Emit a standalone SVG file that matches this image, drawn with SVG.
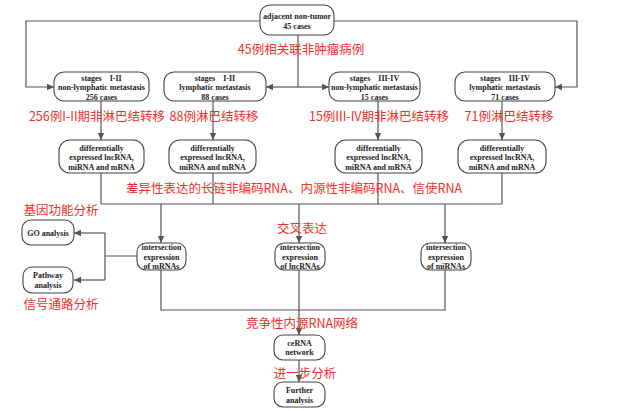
<svg xmlns="http://www.w3.org/2000/svg" width="628" height="411" viewBox="0 0 628 411">
<style>
.box{fill:#fff;stroke:#444;stroke-width:1.1}
.t{font-family:"Liberation Serif",serif;font-weight:bold;font-size:8px;fill:#222;text-anchor:middle;white-space:pre}
.r{font-family:"Noto Sans CJK SC",sans-serif;font-size:12.5px;fill:#f2302a;text-anchor:middle}
.c{fill:none;stroke:#555;stroke-width:1.2}
</style>
<defs>
<marker id="a" markerUnits="userSpaceOnUse" markerWidth="8" markerHeight="8" refX="7" refY="4" orient="auto">
<path d="M0,0.8 L7,4 L0,7.2 Z" fill="#555"/>
</marker>
</defs>
<rect width="628" height="411" fill="#fff"/>
<g id="connectors">
<path class="c" d="M260,21 H26 V87 H54" marker-end="url(#a)"/>
<path class="c" d="M334,21 H577 V87 H555" marker-end="url(#a)"/>
<path class="c" d="M298,35 V87"/>
<path class="c" d="M298,87 H266" marker-end="url(#a)"/>
<path class="c" d="M298,87 H329" marker-end="url(#a)"/>
<path class="c" d="M101,101 V140" marker-end="url(#a)"/>
<path class="c" d="M213,101 V140" marker-end="url(#a)"/>
<path class="c" d="M378,101 V140" marker-end="url(#a)"/>
<path class="c" d="M502,101 V140" marker-end="url(#a)"/>
<path class="c" d="M101,173 V204 M213,173 V204 M378,173 V204 M502,173 V204 M101,204 H502"/>
<path class="c" d="M161,204 V243" marker-end="url(#a)"/>
<path class="c" d="M299,204 V243" marker-end="url(#a)"/>
<path class="c" d="M445,204 V243" marker-end="url(#a)"/>
<path class="c" d="M137,256 H105 M105,233 V280"/>
<path class="c" d="M105,233 H74" marker-end="url(#a)"/>
<path class="c" d="M105,280 H74" marker-end="url(#a)"/>
<path class="c" d="M161,270 V310 H445 V270"/>
<path class="c" d="M299,270 V335" marker-end="url(#a)"/>
<path class="c" d="M299,360 V382" marker-end="url(#a)"/>
</g>
<g id="n-top">
<rect class="box" x="260" y="5" width="74" height="30" rx="10"/>
<text class="t" x="297" y="19">adjacent non-tumor</text>
<text class="t" x="297" y="29">45 cases</text>
</g>
<g id="n-s1">
<rect class="box" x="54" y="72" width="95" height="29" rx="10"/>
<text class="t" x="101.5" y="81" xml:space="preserve">stages    I-II</text>
<text class="t" x="101.5" y="90">non-lymphatic metastasis</text>
<text class="t" x="101.5" y="99.5">256 cases</text>
</g>
<g id="n-s2">
<rect class="box" x="164" y="72" width="102" height="29" rx="10"/>
<text class="t" x="215" y="81" xml:space="preserve">stages    I-II</text>
<text class="t" x="215" y="90">lymphatic metastasis</text>
<text class="t" x="215" y="99.5">88 cases</text>
</g>
<g id="n-s3">
<rect class="box" x="329" y="72" width="91" height="29" rx="10"/>
<text class="t" x="374.5" y="81" xml:space="preserve">stages    III-IV</text>
<text class="t" x="374.5" y="90">non-lymphatic metastasis</text>
<text class="t" x="374.5" y="99.5">15 cases</text>
</g>
<g id="n-s4">
<rect class="box" x="455" y="72" width="100" height="29" rx="10"/>
<text class="t" x="505" y="81" xml:space="preserve">stages    III-IV</text>
<text class="t" x="505" y="90">lymphatic metastasis</text>
<text class="t" x="505" y="99.5">71 cases</text>
</g>
<g id="n-d1">
<rect class="box" x="59" y="140" width="85" height="33" rx="11"/>
<text class="t" x="101.5" y="150.5">differentially</text>
<text class="t" x="101.5" y="160">expressed lncRNA,</text>
<text class="t" x="101.5" y="169.5">miRNA and mRNA</text>
</g>
<g id="n-d2">
<rect class="box" x="169" y="140" width="87" height="33" rx="11"/>
<text class="t" x="212.5" y="150.5">differentially</text>
<text class="t" x="212.5" y="160">expressed lncRNA,</text>
<text class="t" x="212.5" y="169.5">miRNA and mRNA</text>
</g>
<g id="n-d3">
<rect class="box" x="335" y="140" width="87" height="33" rx="11"/>
<text class="t" x="378.5" y="150.5">differentially</text>
<text class="t" x="378.5" y="160">expressed lncRNA,</text>
<text class="t" x="378.5" y="169.5">miRNA and mRNA</text>
</g>
<g id="n-d4">
<rect class="box" x="458" y="140" width="88" height="33" rx="11"/>
<text class="t" x="502" y="150.5">differentially</text>
<text class="t" x="502" y="160">expressed lncRNA,</text>
<text class="t" x="502" y="169.5">miRNA and mRNA</text>
</g>
<g id="n-go">
<rect class="box" x="22" y="220" width="52" height="25" rx="9"/>
<text class="t" x="48" y="235.5">GO analysis</text>
</g>
<g id="n-path">
<rect class="box" x="23" y="267" width="50" height="26" rx="9"/>
<text class="t" x="48" y="278">Pathway</text>
<text class="t" x="48" y="287.5">analysis</text>
</g>
<g id="n-im">
<rect class="box" x="137" y="243" width="49" height="27" rx="9"/>
<text class="t" x="161.5" y="250">intersection</text>
<text class="t" x="161.5" y="259.5">expression</text>
<text class="t" x="161.5" y="268.5">of mRNAs</text>
</g>
<g id="n-il">
<rect class="box" x="275" y="243" width="50" height="27" rx="9"/>
<text class="t" x="300" y="250">intersection</text>
<text class="t" x="300" y="259.5">expression</text>
<text class="t" x="300" y="268.5">of lncRNAs</text>
</g>
<g id="n-imi">
<rect class="box" x="421" y="243" width="50" height="27" rx="9"/>
<text class="t" x="446" y="250">intersection</text>
<text class="t" x="446" y="259.5">expression</text>
<text class="t" x="446" y="268.5">of miRNAs</text>
</g>
<g id="n-ce">
<rect class="box" x="274" y="335" width="51" height="25" rx="9"/>
<text class="t" x="299.5" y="345.5">ceRNA</text>
<text class="t" x="299.5" y="355">network</text>
</g>
<g id="n-fu">
<rect class="box" x="274" y="382" width="51" height="25" rx="9"/>
<text class="t" x="299.5" y="393">Further</text>
<text class="t" x="299.5" y="402.5">analysis</text>
</g>
<g id="labels">
<text class="r" x="301" y="53.5">45例相关联非肿瘤病例</text>
<text class="r" x="97" y="120.5">256例I-II期非淋巴结转移</text>
<text class="r" x="214" y="120.5">88例淋巴结转移</text>
<text class="r" x="379" y="120.5">15例III-IV期非淋巴结转移</text>
<text class="r" x="509" y="120.5">71例淋巴结转移</text>
<text class="r" x="294" y="192.5">差异性表达的长链非编码RNA、内源性非编码RNA、信使RNA</text>
<text class="r" x="61" y="214.5">基因功能分析</text>
<text class="r" x="302" y="232.5">交叉表达</text>
<text class="r" x="61" y="308.5">信号通路分析</text>
<text class="r" x="302" y="327.5">竞争性内源RNA网络</text>
<text class="r" x="305" y="377.5">进一步分析</text>
</g>
</svg>
